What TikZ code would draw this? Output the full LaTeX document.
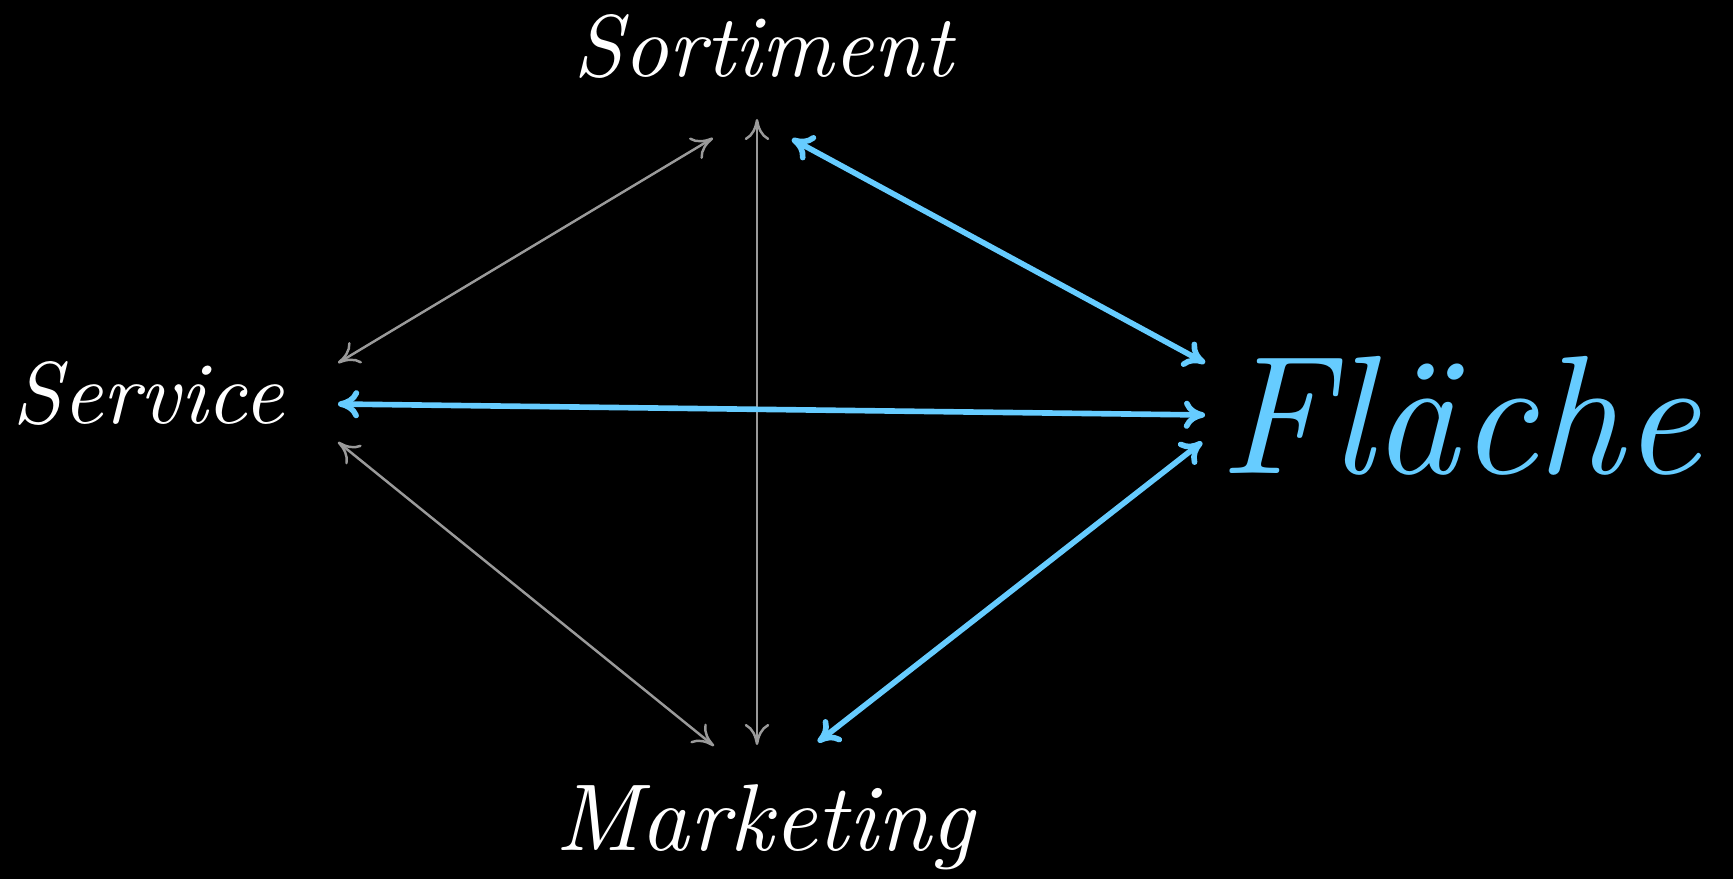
\documentclass[tikz,border=0pt]{standalone}
\usepackage{fontspec}
\usepackage{xcolor}
\usepackage{tikz}
\usetikzlibrary{arrows.meta,calc}

\newfontfamily\lmtenit{lmroman10-italic}[Extension=.otf]
\definecolor{lightblue}{HTML}{66CCFF}
\definecolor{midgray}{HTML}{9A9A9A}

\begin{document}
\begin{tikzpicture}[
    x=0.01cm, y=-0.01cm,
    label/.style={inner sep=0pt, anchor=base, text=white, font=\fontsize{25}{30}\lmtenit},
    biglabel/.style={inner sep=0pt, anchor=base, text=lightblue, font=\fontsize{48}{56}\lmtenit},
    grayarrow/.style={{To[length=6pt,width=7pt]}-{To[length=6pt,width=7pt]}, midgray, line width=0.7pt},
    bluearrow/.style={{To[length=6pt,width=8pt]}-{To[length=6pt,width=8pt]}, lightblue, line width=1.6pt, line cap=round}
]

\fill[black] (0,0) rectangle (1733,879);
\useasboundingbox (0,0) rectangle (1733,879);

\node[label] (sortiment) at (763,77) {Sortiment};
\node[label] (service) at (148,423) {Service};
\node[biglabel] (flaeche) at (1460,473) {Fläche};
\node[label, font=\fontsize{27}{32}\lmtenit] (marketing) at (765,850) {Marketing};

\draw[grayarrow] ([shift={(-50,61)}]sortiment.base) -- ([shift={(190,-60)}]service.base);
\draw[grayarrow] ([shift={(-6,42)}]sortiment.base) -- ([shift={(-8,-105)}]marketing.base);
\draw[grayarrow] ([shift={(190,19)}]service.base) -- ([shift={(-51,-104)}]marketing.base);

\draw[bluearrow] ([shift={(29,62)}]sortiment.base) -- ([shift={(-255,-110)}]flaeche.base);
\draw[bluearrow] ([shift={(190,-19)}]service.base) -- ([shift={(-255,-58)}]flaeche.base);
\draw[bluearrow] ([shift={(-258,-31)}]flaeche.base) -- ([shift={(53,-108)}]marketing.base);

\end{tikzpicture}
\end{document}
